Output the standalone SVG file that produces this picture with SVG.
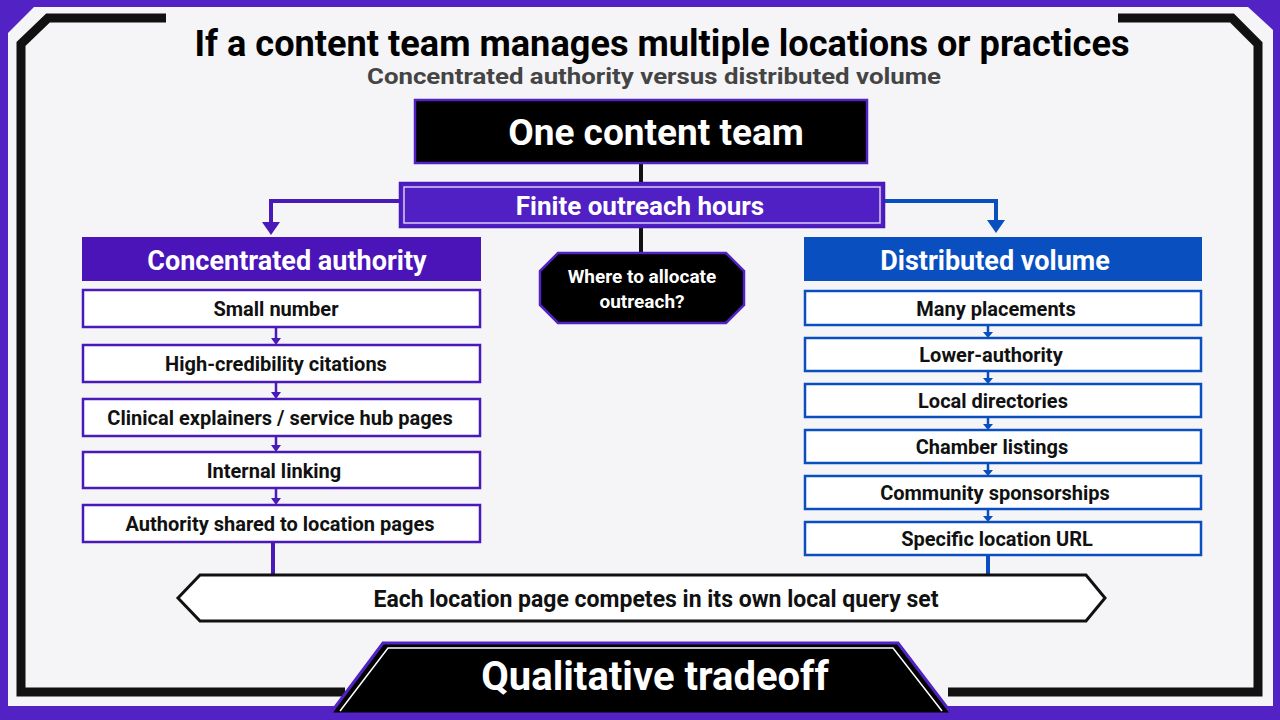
<svg xmlns="http://www.w3.org/2000/svg" width="1280" height="720" viewBox="0 0 1280 720">
<defs>
<style>
.t{font-family:Roboto,"Liberation Sans",sans-serif;font-weight:700;text-anchor:middle}
.w{fill:#fff}
.lb{fill:#fff;stroke:#4a1ab8;stroke-width:2.5}
.rb{fill:#fff;stroke:#0a4fc0;stroke-width:2.5}
.bt{font-size:20px;fill:#111}
.frame{fill:none;stroke:#111;stroke-width:9}
</style>
</defs>
<rect width="1280" height="720" fill="#5222c4"/>
<path d="M34,7 H1248 L1273,30 V706 H8 V33 Z" fill="#f5f5f7"/>
<g id="frame">
<path class="frame" d="M166,18 H48 L21,44 V692 H345"/>
<path class="frame" d="M1118,18 H1232 L1258,44 V692 H948"/>
</g>
<g id="title">
<text class="t" x="662" y="56" font-size="37" fill="#000" textLength="935" lengthAdjust="spacingAndGlyphs">If a content team manages multiple locations or practices</text>
<text class="t" x="654" y="84" font-size="22" fill="#444" textLength="574" lengthAdjust="spacingAndGlyphs">Concentrated authority versus distributed volume</text>
</g>
<g id="connectors" fill="none" stroke-width="4">
<path d="M641,163 V183" stroke="#111"/>
<path d="M641,227 V253" stroke="#111"/>
<path d="M400,201 H271 V224" stroke="#4a1ab8"/>
<path d="M262,222 L271,235 L280,222 Z" fill="#4a1ab8" stroke="none"/>
<path d="M884,201 H996 V222" stroke="#0a4fc0"/>
<path d="M987,220 L996,233 L1005,220 Z" fill="#0a4fc0" stroke="none"/>
<g stroke="#4a1ab8" stroke-width="2.5">
<path d="M276,327 V340 M276,382 V394 M276,436 V447 M276,488 V500"/>
</g>
<g fill="#4a1ab8" stroke="none">
<path d="M271,338 L276,345 L281,338 Z M271,392 L276,399 L281,392 Z M271,445 L276,452 L281,445 Z M271,498 L276,505 L281,498 Z"/>
</g>
<g stroke="#0a4fc0" stroke-width="2.5">
<path d="M988,325 V333 M988,371 V379 M988,417 V425 M988,463 V471 M988,509 V517"/>
</g>
<g fill="#0a4fc0" stroke="none">
<path d="M983,332 L988,338 L993,332 Z M983,378 L988,384 L993,378 Z M983,424 L988,430 L993,424 Z M983,470 L988,476 L993,470 Z M983,516 L988,522 L993,516 Z"/>
</g>
<path d="M273,542 V576" stroke="#4a1ab8"/>
<path d="M988,555 V576" stroke="#0a4fc0"/>
</g>
<g id="team">
<rect x="415" y="100" width="452" height="63" fill="#000" stroke="#5222c4" stroke-width="2.5"/>
<text class="t w" x="656" y="145" font-size="37">One content team</text>
</g>
<g id="hours">
<rect x="400" y="183" width="484" height="44" fill="#5020c4" stroke="#4a1ab8" stroke-width="2.5"/>
<rect x="404" y="187" width="476" height="36" fill="none" stroke="#d8ccf4" stroke-width="1.5"/>
<text class="t w" x="640" y="215" font-size="26">Finite outreach hours</text>
</g>
<g id="question">
<path d="M558,253 H726 L744,271 V305 L726,323 H558 L540,305 V271 Z" fill="#000" stroke="#5222c4" stroke-width="2.5"/>
<text class="t w" font-size="19" x="642" y="283">Where to allocate</text>
<text class="t w" font-size="19" x="642" y="308">outreach?</text>
</g>
<g id="left-header">
<rect x="82" y="237" width="399" height="44" fill="#4a14b8"/>
<text class="t w" x="287" y="270" font-size="27">Concentrated authority</text>
</g>
<g id="left-list">
<rect class="lb" x="83" y="290" width="397" height="37"/><text class="t bt" x="276" y="316">Small number</text>
<rect class="lb" x="83" y="345" width="397" height="37"/><text class="t bt" x="276" y="371">High-credibility citations</text>
<rect class="lb" x="83" y="399" width="397" height="37"/><text class="t bt" x="280" y="425">Clinical explainers / service hub pages</text>
<rect class="lb" x="83" y="452" width="397" height="36"/><text class="t bt" x="274" y="478">Internal linking</text>
<rect class="lb" x="83" y="505" width="397" height="37"/><text class="t bt" x="280" y="531">Authority shared to location pages</text>
</g>
<g id="right-header">
<rect x="804" y="237" width="398" height="44" fill="#0a4fc0"/>
<text class="t w" x="995" y="270" font-size="27">Distributed volume</text>
</g>
<g id="right-list">
<rect class="rb" x="805" y="291" width="396" height="34"/><text class="t bt" x="996" y="316">Many placements</text>
<rect class="rb" x="805" y="338" width="396" height="33"/><text class="t bt" x="991" y="362">Lower-authority</text>
<rect class="rb" x="805" y="384" width="396" height="33"/><text class="t bt" x="993" y="408">Local directories</text>
<rect class="rb" x="805" y="430" width="396" height="33"/><text class="t bt" x="992" y="454">Chamber listings</text>
<rect class="rb" x="805" y="476" width="396" height="33"/><text class="t bt" x="995" y="500">Community sponsorships</text>
<rect class="rb" x="805" y="522" width="396" height="33"/><text class="t bt" x="997" y="546">Specific location URL</text>
</g>
<g id="result">
<path d="M200,575 H1086 L1105,598 L1086,621 H200 L178,598 Z" fill="#fff" stroke="#111" stroke-width="3"/>
<text class="t" x="656" y="607" font-size="23" fill="#111">Each location page competes in its own local query set</text>
</g>
<g id="footer">
<path d="M330,714 L383,643 H898 L952,714 Z" fill="#000" stroke="#5222c4" stroke-width="3"/>
<path d="M340,711 L388,648 H893 L942,711" fill="none" stroke="#fff" stroke-width="1.5"/>
<text class="t w" x="655" y="690" font-size="40">Qualitative tradeoff</text>
</g>
</svg>
